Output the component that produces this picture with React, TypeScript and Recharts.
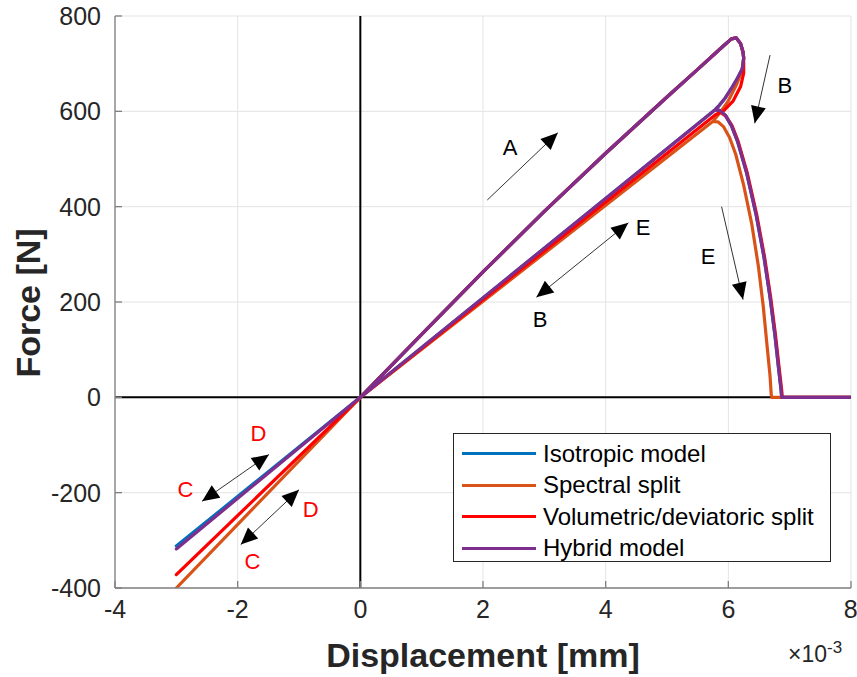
import React from "react";
import {
  CartesianGrid,
  Legend,
  Line,
  LineChart,
  ReferenceDot,
  ReferenceLine,
  XAxis,
  YAxis,
} from "recharts";

// displacement in units of 1e-3 mm, force in N
const xTicks = [-4, -2, 0, 2, 4, 6, 8];
const yTicks = [-400, -200, 0, 200, 400, 600, 800];

// loading branch (A), shared by all models
const loadX = [0, 1, 2, 3, 4, 5, 5.5, 5.9, 6.05, 6.13, 6.2, 6.24];
const loadY = [0, 132, 263, 390, 512, 630, 688, 735, 752, 754, 742, 724];

// drop after the peak (B) down to the unloading point
const dropHybX = [6.25, 6.23, 6.15, 6.05, 5.95, 5.85, 5.78];
const dropHybY = [712, 690, 670, 648, 628, 612, 603];
const dropVdX = [6.25, 6.25, 6.2, 6.08, 5.93, 5.78];
const dropVdY = [712, 680, 652, 622, 602, 592];
const dropSpecX = [6.25, 6.22, 6.13, 6.0, 5.87, 5.75];
const dropSpecY = [712, 685, 655, 622, 598, 579];

// compression end point (C / D)
const compX = -3;
const compIso = -312;
const compSpec = -400;
const compVd = -372;
const compHyb = -318;

// reloading softening branch (E)
const softHybX = [5.78, 5.86, 5.95, 6.05, 6.15, 6.3, 6.45, 6.58, 6.68, 6.76, 6.82, 6.86, 6.87, 8];
const softHybY = [603, 602, 592, 570, 537, 470, 385, 295, 210, 130, 60, 15, 0, 0];
const softVdX = [5.78, 5.87, 5.96, 6.06, 6.16, 6.31, 6.46, 6.59, 6.69, 6.77, 6.83, 6.87, 6.88, 8];
const softVdY = [592, 598, 590, 570, 537, 470, 385, 295, 210, 130, 60, 15, 0, 0];
const softSpecX = [5.75, 5.83, 5.92, 6.02, 6.12, 6.25, 6.38, 6.49, 6.57, 6.63, 6.68, 6.7, 6.71, 8];
const softSpecY = [579, 578, 568, 545, 510, 445, 365, 275, 190, 110, 45, 5, 0, 0];

const seriesNames = ["Isotropic model", "Spectral split", "Volumetric/deviatoric split", "Hybrid model"];
const seriesColors = ["#0072BD", "#D95319", "#FF0000", "#7E2F8E"];

const arrows = [
  { x1: 2.07, y1: 414, x2: 3.22, y2: 555, both: false },
  { x1: 6.68, y1: 718, x2: 6.43, y2: 575, both: false },
  { x1: 2.87, y1: 210, x2: 4.37, y2: 366, both: true },
  { x1: 5.89, y1: 400, x2: 6.24, y2: 205, both: false },
  { x1: -2.58, y1: -218, x2: -1.49, y2: -120, both: true },
  { x1: -1.95, y1: -309, x2: -1.0, y2: -194, both: true },
];
const letters = [
  { x: 2.44, y: 525, t: "A", c: "#000" },
  { x: 6.92, y: 655, t: "B", c: "#000" },
  { x: 4.61, y: 356, t: "E", c: "#000" },
  { x: 2.93, y: 163, t: "B", c: "#000" },
  { x: 5.67, y: 295, t: "E", c: "#000" },
  { x: -1.66, y: -75, t: "D", c: "#FF0000" },
  { x: -2.85, y: -194, t: "C", c: "#FF0000" },
  { x: -0.81, y: -236, t: "D", c: "#FF0000" },
  { x: -1.76, y: -344, t: "C", c: "#FF0000" },
];

const zip = (xs: number[], ys: number[]) => xs.map((x, i) => ({ x, y: ys[i] }));

function buildPath(dx: number[], dy: number[], comp: number, sx: number[], sy: number[]) {
  return [
    ...zip(loadX, loadY),
    ...zip(dx, dy),
    { x: 0, y: 0 },
    { x: compX, y: comp },
    { x: 0, y: 0 },
    ...zip(sx, sy),
  ];
}

const seriesData = [
  buildPath(dropHybX, dropHybY, compIso, softHybX, softHybY),
  buildPath(dropSpecX, dropSpecY, compSpec, softSpecX, softSpecY),
  buildPath(dropVdX, dropVdY, compVd, softVdX, softVdY),
  buildPath(dropHybX, dropHybY, compHyb, softHybX, softHybY),
];

const FONT = "'Liberation Sans', Arial, Helvetica, sans-serif";

function head(tx: number, ty: number, ang: number) {
  const L = 17;
  const w = 7.5;
  const bx = tx - L * Math.cos(ang);
  const by = ty - L * Math.sin(ang);
  const px = -Math.sin(ang) * w;
  const py = Math.cos(ang) * w;
  return `${tx},${ty} ${bx + px},${by + py} ${bx - px},${by - py}`;
}

function arrowShape(both: boolean) {
  return (p: any) => {
    const { x1, y1, x2, y2 } = p;
    if (![x1, y1, x2, y2].every((v) => typeof v === "number")) return null;
    const ang = Math.atan2(y2 - y1, x2 - x1);
    const back = Math.atan2(y1 - y2, x1 - x2);
    return (
      <g>
        <line x1={x1} y1={y1} x2={x2} y2={y2} stroke="#333" strokeWidth={1} />
        <polygon points={head(x2, y2, ang)} fill="#000" />
        {both && <polygon points={head(x1, y1, back)} fill="#000" />}
      </g>
    );
  };
}

function LegendBox() {
  return (
    <div
      style={{
        width: 378,
        height: 129,
        border: "1px solid #262626",
        background: "#fff",
        paddingTop: 4,
        boxSizing: "border-box",
        fontFamily: FONT,
      }}
    >
      {seriesNames.map((n, i) => (
        <div key={n} style={{ display: "flex", alignItems: "center", height: 31.5 }}>
          <div style={{ marginLeft: 8, width: 74, height: 3, background: seriesColors[i] }} />
          <span style={{ marginLeft: 7, fontSize: 24, color: "#000", whiteSpace: "nowrap" }}>{n}</span>
        </div>
      ))}
    </div>
  );
}

export default function App() {
  return (
    <div style={{ position: "absolute", left: 0, top: 0, width: 857, height: 677, background: "#fff" }}>
      <LineChart width={857} height={677} margin={{ top: 16, right: 6, left: 0, bottom: 0 }}>
        <CartesianGrid stroke="#e3e3e3" strokeWidth={1} />
        <XAxis
          xAxisId={0}
          type="number"
          dataKey="x"
          domain={[-4, 8]}
          ticks={xTicks}
          allowDataOverflow
          height={89}
          stroke="#808080"
          strokeWidth={1.3}
          tickSize={-7}
          tickMargin={19}
          tick={{ fontSize: 25, fill: "#262626", fontFamily: FONT }}
        />
        <XAxis
          xAxisId="top"
          orientation="top"
          type="number"
          dataKey="x"
          domain={[-4, 8]}
          ticks={xTicks}
          height={0}
          stroke="#808080"
          strokeWidth={1.3}
          tickSize={-7}
          tick={false}
        />
        <YAxis
          yAxisId={0}
          type="number"
          domain={[-400, 800]}
          ticks={yTicks}
          allowDataOverflow
          width={115}
          stroke="#808080"
          strokeWidth={1.3}
          tickSize={-7}
          tickMargin={21}
          tick={{ fontSize: 25, fill: "#262626", fontFamily: FONT }}
        />
        <YAxis
          yAxisId="right"
          orientation="right"
          type="number"
          domain={[-400, 800]}
          ticks={yTicks}
          width={0}
          stroke="#808080"
          strokeWidth={1.3}
          tickSize={-7}
          tick={false}
        />
        <ReferenceLine x={0} stroke="#000" strokeWidth={2} />
        <ReferenceLine y={0} stroke="#000" strokeWidth={2} />
        {seriesNames.map((n, i) => (
          <Line
            key={n}
            data={seriesData[i]}
            dataKey="y"
            name={n}
            type="linear"
            stroke={seriesColors[i]}
            strokeWidth={3.2}
            strokeLinejoin="round"
            dot={false}
            isAnimationActive={false}
          />
        ))}
        {arrows.map((a, i) => (
          <ReferenceLine
            key={"a" + i}
            segment={[
              { x: a.x1, y: a.y1 },
              { x: a.x2, y: a.y2 },
            ]}
            shape={arrowShape(a.both)}
          />
        ))}
        {letters.map((l, i) => (
          <ReferenceDot
            key={"l" + i}
            x={l.x}
            y={l.y}
            r={1}
            shape={(p: any) => (
              <text
                x={p.cx}
                y={p.cy}
                textAnchor="middle"
                dominantBaseline="central"
                fontSize={22}
                fontFamily={FONT}
                fill={l.c}
              >
                {l.t}
              </text>
            )}
          />
        ))}
        <Legend
          layout="vertical"
          align="center"
          verticalAlign="middle"
          wrapperStyle={{ position: "absolute", left: 453, top: 433, width: 380 }}
          content={() => <LegendBox />}
        />
      </LineChart>
      <div
        style={{
          position: "absolute",
          left: 28,
          top: 303,
          transform: "translate(-50%, -50%) rotate(-90deg)",
          fontFamily: FONT,
          fontWeight: "bold",
          fontSize: 34,
          color: "#262626",
          whiteSpace: "nowrap",
        }}
      >
        Force [N]
      </div>
      <div
        style={{
          position: "absolute",
          left: 483,
          top: 655,
          transform: "translate(-50%, -50%)",
          fontFamily: FONT,
          fontWeight: "bold",
          fontSize: 34,
          color: "#262626",
          whiteSpace: "nowrap",
        }}
      >
        Displacement [mm]
      </div>
      <div
        style={{
          position: "absolute",
          left: 788,
          top: 641,
          fontFamily: FONT,
          fontSize: 23,
          lineHeight: "26px",
          color: "#262626",
          whiteSpace: "nowrap",
        }}
      >
        ×10
        <span style={{ fontSize: 17, position: "relative", top: -9 }}>-3</span>
      </div>
    </div>
  );
}
